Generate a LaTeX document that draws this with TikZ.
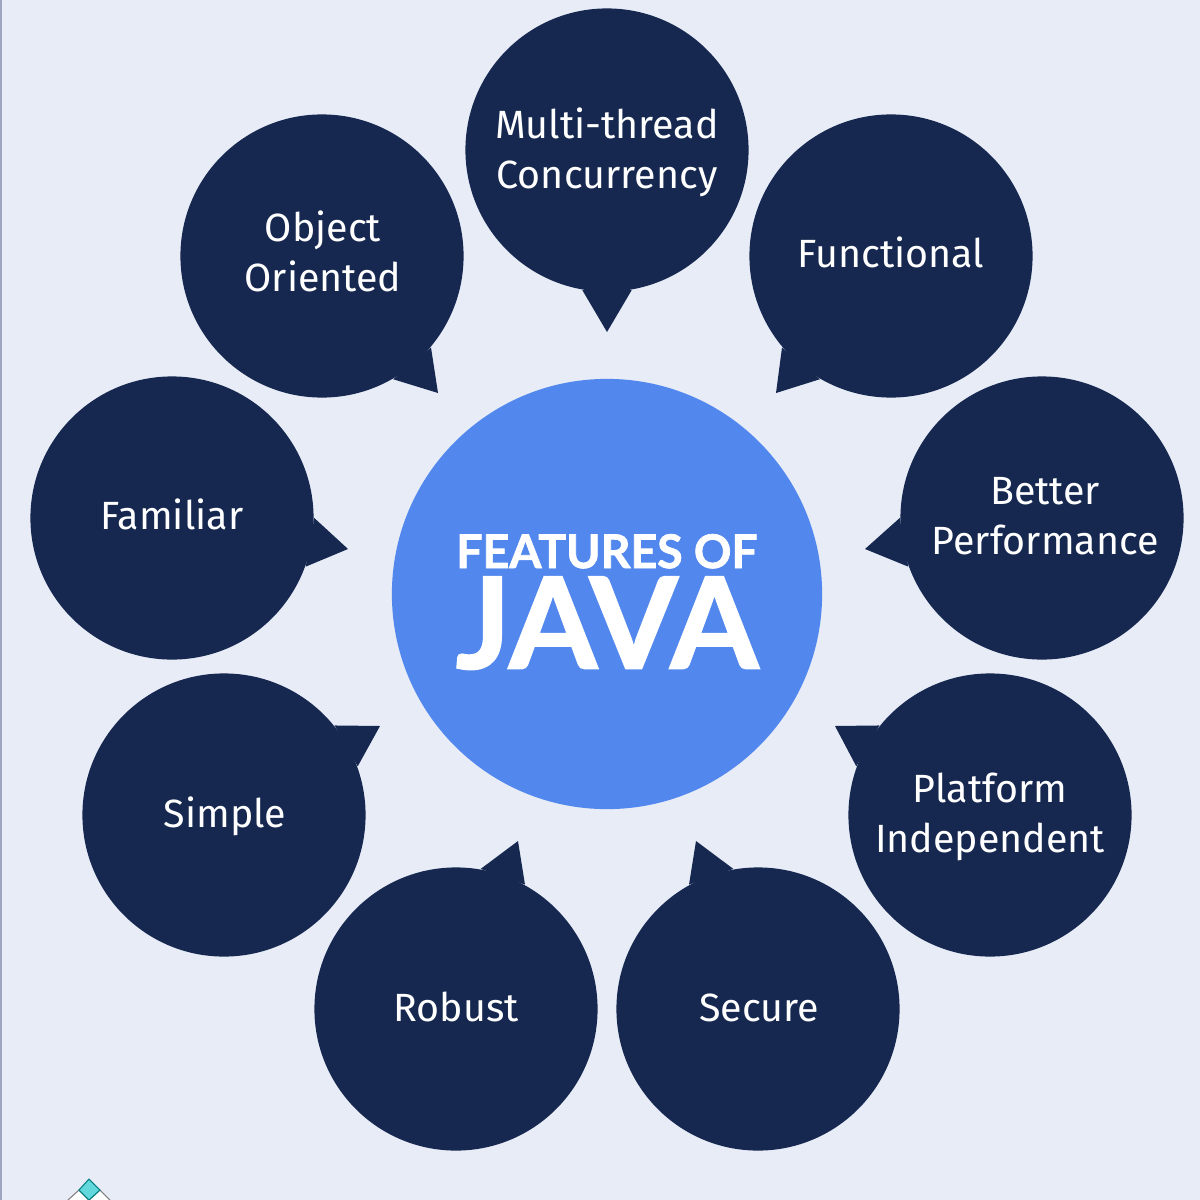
\documentclass[tikz,border=0pt]{standalone}
\usepackage{fontspec}
\setmainfont{Fira Sans}
\newfontfamily\hubfont[BoldFeatures={FakeBold=1.6}]{Lato}
\definecolor{pagebg}{HTML}{E7ECF7}
\definecolor{pageedge}{HTML}{9CA6BE}
\definecolor{bubblenavy}{HTML}{162850}
\definecolor{hubblue}{HTML}{5288EE}
\definecolor{logocyan}{HTML}{62D8DC}
\tikzset{
bubble/.style={circle, fill=bubblenavy, minimum size=2.83cm, inner sep=0pt},
bubbletext/.style={text=white, inner sep=0pt, align=center, font=\fontsize{11.2}{14.2}\selectfont},
tail/.style={fill=bubblenavy},
hub/.style={circle, fill=hubblue, minimum size=4.3cm, inner sep=0pt},
hubtext/.style={text=white, inner sep=0pt, align=center, font=\hubfont\bfseries},
logopart/.style={draw=#1, line width=0.3pt},
}
\begin{document}
\begin{tikzpicture}[x=0.01cm, y=-0.01cm]
\useasboundingbox (0,0) rectangle (1200,1200);
\clip (0,0) rectangle (1200,1200);
\fill[pagebg] (0,0) rectangle (1200,1200);
\fill[pageedge] (0,0) rectangle (2,1200);
% hub
\node[hub, label={[hubtext, yshift=-2.2pt]center:{\fontsize{13.2}{16}\selectfont FEATURES OF}\\[1.4pt]{\fontsize{36}{36}\selectfont JAVA}}] (java) at (607,594) {};
% bubbles
\node[bubble, label={[bubbletext, yshift=-0.6pt]center:Multi-thread\\Concurrency}] (multi) at (607,150) {};
\node[bubble, label={[bubbletext, yshift=1.1pt]center:Functional}] (functional) at (891,256) {};
\node[bubble, label={[bubbletext, xshift=0.9pt, yshift=0.6pt]center:Better\\Performance}] (better) at (1042,518) {};
\node[bubble, label={[bubbletext, yshift=-0.6pt]center:Platform\\Independent}] (platform) at (990,815) {};
\node[bubble, label={[bubbletext, xshift=0.3pt, yshift=0.3pt]center:Secure}] (secure) at (758,1009) {};
\node[bubble, label={[bubbletext, yshift=0.6pt]center:Robust}] (robust) at (456,1009) {};
\node[bubble, label={[bubbletext, xshift=0.3pt, yshift=-0.3pt]center:Simple}] (simple) at (224,815) {};
\node[bubble, label={[bubbletext, yshift=1.1pt]center:Familiar}] (familiar) at (172,518) {};
\node[bubble, label={[bubbletext, xshift=0.3pt, yshift=1.3pt]center:Object\\Oriented}] (object) at (322,256) {};
% tail tips
\coordinate (tipmulti) at (607,332);
\coordinate (tipfunctional) at (776,393);
\coordinate (tipbetter) at (865,549);
\coordinate (tipplatform) at (835,726);
\coordinate (tipsecure) at (696,841);
\coordinate (tiprobust) at (518,841);
\coordinate (tipsimple) at (380,726);
\coordinate (tipfamiliar) at (348,549);
\coordinate (tipobject) at (438,393);
% tails
\fill[tail] (multi.260) -- (tipmulti) -- (multi.280) -- cycle;
\fill[tail] (functional.220) -- (tipfunctional) -- (functional.240) -- cycle;
\fill[tail] (better.180) -- (tipbetter) -- (better.200) -- cycle;
\fill[tail] (platform.141) -- (tipplatform) -- (platform.160) -- cycle;
\fill[tail] (secure.100) -- (tipsecure) -- (secure.119) -- cycle;
\fill[tail] (robust.80) -- (tiprobust) -- (robust.61) -- cycle;
\fill[tail] (simple.39) -- (tipsimple) -- (simple.20) -- cycle;
\fill[tail] (familiar.0) -- (tipfamiliar) -- (familiar.340) -- cycle;
\fill[tail] (object.320) -- (tipobject) -- (object.300) -- cycle;
% logo, cut by the page edge
\draw[logopart=gray, fill=white] (79,1190) -- (89,1200) -- (79,1211) -- (68,1200) -- cycle;
\draw[logopart=gray, fill=white] (100,1190) -- (110,1200) -- (100,1211) -- (89,1200) -- cycle;
\draw[logopart=teal, fill=logocyan] (89,1179) -- (100,1190) -- (89,1200) -- (79,1190) -- cycle;
\end{tikzpicture}
\end{document}
